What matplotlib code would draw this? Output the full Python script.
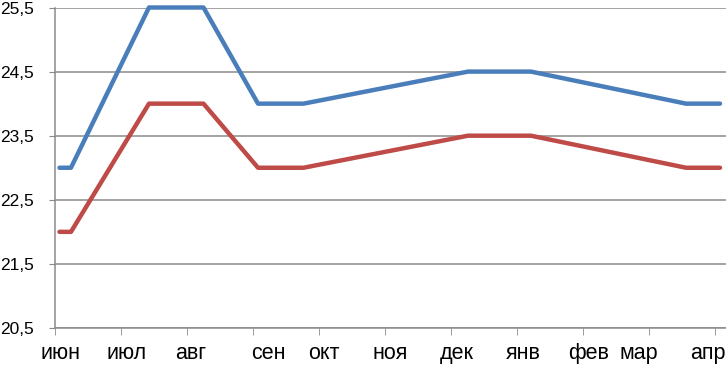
import numpy as np
import matplotlib
matplotlib.use("Agg")
import matplotlib.pyplot as plt

# month axis: 0 = start of июн, 1 = start of июл, ...
months = ['июн', 'июл', 'авг', 'сен', 'окт', 'ноя', 'дек', 'янв', 'фев', 'мар', 'апр']
month_label_pos = [0.09, 1.08, 2.06, 3.24, 4.08, 5.08, 6.08, 7.09, 8.09, 8.85, 9.89]

# points of both series (position in months, value)
t = [0.068, 0.242, 1.424, 2.250, 3.076, 3.765, 6.258, 7.212, 9.561, 10.076]
upper = [23.0, 23.0, 25.5, 25.5, 24.0, 24.0, 24.5, 24.5, 24.0, 24.0]
lower = [22.0, 22.0, 24.0, 24.0, 23.0, 23.0, 23.5, 23.5, 23.0, 23.0]

yticks = [20.5, 21.5, 22.5, 23.5, 24.5, 25.5]

fig = plt.figure(figsize=(7.26, 3.69), dpi=100)
ax = fig.add_axes([55/726, 41/369, 1 - 55/726, (328 - 7.5)/369])

grid_col = '#8a8a8a'
ax.plot(t, upper, color='#4a7ebb', lw=3.2, solid_capstyle='round', solid_joinstyle='round', clip_on=False)
ax.plot(t, lower, color='#be4b48', lw=3.2, solid_capstyle='round', solid_joinstyle='round', clip_on=False)

ax.set_xlim(0, (726 - 55) / 66)
ax.set_ylim(20.5, 25.5)

ax.set_yticks(yticks)
ax.set_yticklabels([('%.1f' % v).replace('.', ',') for v in yticks],
                   fontfamily='Liberation Sans', fontsize=12.5)
ax.yaxis.grid(True, color=grid_col, lw=1.1)
ax.tick_params(axis='y', length=4, color=grid_col, pad=11)

# tick marks at month starts, labels placed separately
ax.set_xticks(range(0, 11), minor=True)
ax.set_xticks(month_label_pos)
ax.set_xticklabels(months, fontfamily='Liberation Sans', fontsize=15.5)
ax.tick_params(axis='x', which='major', length=0, pad=11)
ax.tick_params(axis='x', which='minor', length=5, color=grid_col)

for s in ['top', 'right']:
    ax.spines[s].set_visible(False)
for s in ['left', 'bottom']:
    ax.spines[s].set_color(grid_col)
    ax.spines[s].set_linewidth(1.1)
ax.set_axisbelow(True)

fig.savefig('out.png', dpi=100)
